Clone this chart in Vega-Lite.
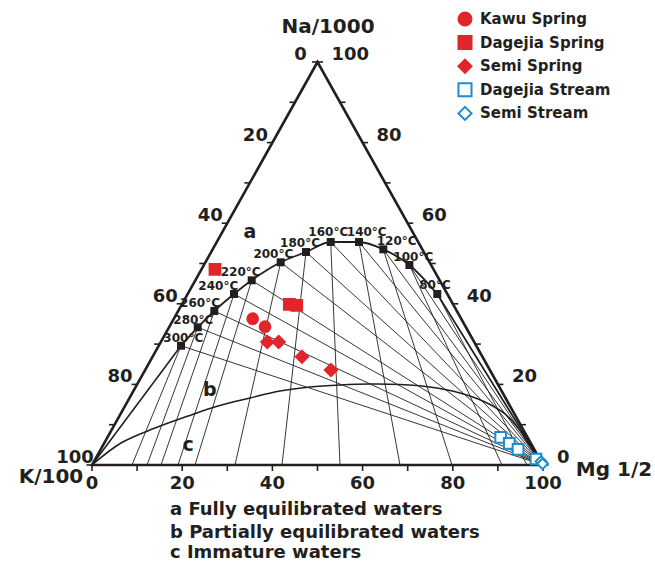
{
"$schema":"https://vega.github.io/schema/vega-lite/v6.json",
"width":655,"height":564,
"autosize":{"type":"fit","contains":"padding"},
"padding":0,
"background":"white",
"config":{"view":{"stroke":null},
 "text":{"font":"DejaVu Sans","fontWeight":"bold","color":"#231f20"},
 "legend":{"labelFont":"DejaVu Sans","labelFontWeight":"bold","labelFontSize":15,"labelColor":"#231f20","symbolStrokeWidth":2,"symbolSize":170,"rowPadding":1.6,"labelOffset":7,"padding":0}},
"datasets":{
 "tri":[{"i":0,"x":0,"y":0},{"i":1,"x":100,"y":0},{"i":2,"x":50,"y":100},{"i":3,"x":0,"y":0}],
 "temps":[
  {"T":"300°C","x":19.73,"y":29.60,"bx":8.87},
  {"T":"280°C","x":23.44,"y":34.17,"bx":12.20},
  {"T":"260°C","x":27.12,"y":38.21,"bx":15.30},
  {"T":"240°C","x":31.49,"y":42.43,"bx":19.07},
  {"T":"220°C","x":35.41,"y":45.83,"bx":22.84},
  {"T":"200°C","x":41.84,"y":50.30,"bx":31.71},
  {"T":"180°C","x":47.45,"y":52.85,"bx":42.13},
  {"T":"160°C","x":52.93,"y":55.33,"bx":54.99},
  {"T":"140°C","x":59.20,"y":55.33,"bx":68.29},
  {"T":"120°C","x":64.59,"y":53.52,"bx":79.82},
  {"T":"100°C","x":70.38,"y":49.63,"bx":90.91},
  {"T":"80°C","x":76.56,"y":42.43,"bx":96.45}],
 "tlabels":[
  {"T":"300°C","x":20.24,"y":31.44},
  {"T":"280°C","x":22.46,"y":35.98},
  {"T":"260°C","x":23.95,"y":40.27},
  {"T":"240°C","x":28.00,"y":44.49},
  {"T":"220°C","x":32.97,"y":47.97},
  {"T":"200°C","x":40.20,"y":52.28},
  {"T":"180°C","x":46.12,"y":55.01},
  {"T":"160°C","x":52.39,"y":57.74},
  {"T":"140°C","x":60.91,"y":57.74},
  {"T":"120°C","x":67.56,"y":55.58},
  {"T":"100°C","x":71.24,"y":51.69},
  {"T":"80°C","x":76.05,"y":44.67}],
 "curveB":[
  {"x":0,"y":0},{"x":6.43,"y":5.46},{"x":13.97,"y":9.18},{"x":21.29,"y":12.16},{"x":27.94,"y":14.64},
  {"x":35.03,"y":16.63},{"x":41.69,"y":18.36},{"x":48.34,"y":19.35},{"x":54.99,"y":19.85},{"x":61.64,"y":20.10},
  {"x":68.29,"y":19.98},{"x":74.94,"y":19.35},{"x":81.60,"y":17.87},{"x":87.14,"y":15.63},{"x":91.57,"y":12.66},
  {"x":94.46,"y":9.18},{"x":96.67,"y":5.46},{"x":100,"y":0}],
 "segs":[{"x":0,"y":0,"x2":19.73,"y2":29.60},{"x":76.56,"y":42.43,"x2":100,"y2":0}],
 "ticks":[
  {"side":"bottom","x":0,"y":0},{"side":"bottom","x":10,"y":0},{"side":"bottom","x":20,"y":0},{"side":"bottom","x":30,"y":0},{"side":"bottom","x":40,"y":0},{"side":"bottom","x":50,"y":0},{"side":"bottom","x":60,"y":0},{"side":"bottom","x":70,"y":0},{"side":"bottom","x":80,"y":0},{"side":"bottom","x":90,"y":0},{"side":"bottom","x":100,"y":0},
  {"side":"left","x":50,"y":100},{"side":"left","x":45,"y":90},{"side":"left","x":40,"y":80},{"side":"left","x":35,"y":70},{"side":"left","x":30,"y":60},{"side":"left","x":25,"y":50},{"side":"left","x":20,"y":40},{"side":"left","x":15,"y":30},{"side":"left","x":10,"y":20},{"side":"left","x":5,"y":10},{"side":"left","x":0,"y":0},
  {"side":"right","x":100,"y":0},{"side":"right","x":95,"y":10},{"side":"right","x":90,"y":20},{"side":"right","x":85,"y":30},{"side":"right","x":80,"y":40},{"side":"right","x":75,"y":50},{"side":"right","x":70,"y":60},{"side":"right","x":65,"y":70},{"side":"right","x":60,"y":80},{"side":"right","x":55,"y":90},{"side":"right","x":50,"y":100}],
 "axlabels":[
  {"side":"bottom","v":"0","x":0,"y":0},{"side":"bottom","v":"20","x":20,"y":0},{"side":"bottom","v":"40","x":40,"y":0},{"side":"bottom","v":"60","x":60,"y":0},{"side":"bottom","v":"80","x":80,"y":0},{"side":"bottom","v":"100","x":100,"y":0},
  {"side":"left","v":"0","x":50,"y":100},{"side":"left","v":"20","x":40,"y":80},{"side":"left","v":"40","x":30,"y":60},{"side":"left","v":"60","x":20,"y":40},{"side":"left","v":"80","x":10,"y":20},{"side":"left","v":"100","x":0,"y":0},
  {"side":"right","v":"100","x":50,"y":100},{"side":"right","v":"80","x":60,"y":80},{"side":"right","v":"60","x":70,"y":60},{"side":"right","v":"40","x":80,"y":40},{"side":"right","v":"20","x":90,"y":20},{"side":"right","v":"0","x":100,"y":0}],
 "titles":[
  {"text":"Na/1000","x":52.33,"y":108.68,"kind":"axis"},
  {"text":"K/100","x":-9.09,"y":-3.0,"kind":"axis"},
  {"text":"Mg 1/2","x":115.74,"y":-1.24,"kind":"axis"},
  {"text":"a","x":35.03,"y":57.90,"kind":"region"},
  {"text":"b","x":26.10,"y":18.61,"kind":"region"},
  {"text":"c","x":21.29,"y":4.96,"kind":"region"}],
 "notes":[
  {"text":"a Fully equilibrated  waters","x":17.29,"y":-11.17},
  {"text":"b Partially equilibrated waters","x":17.29,"y":-16.87},
  {"text":"c Immature waters","x":17.29,"y":-21.84}],
 "samples":[
  {"series":"Kawu Spring","x":35.63,"y":36.30},{"series":"Kawu Spring","x":38.36,"y":34.32},
  {"series":"Dagejia Spring","x":27.27,"y":48.56},{"series":"Dagejia Spring","x":43.75,"y":39.88},{"series":"Dagejia Spring","x":45.39,"y":39.63},
  {"series":"Semi Spring","x":38.87,"y":30.52},{"series":"Semi Spring","x":41.40,"y":30.52},{"series":"Semi Spring","x":46.56,"y":26.87},{"series":"Semi Spring","x":52.99,"y":23.57},
  {"series":"Dagejia Stream","x":90.62,"y":6.87},{"series":"Dagejia Stream","x":92.53,"y":5.38},{"series":"Dagejia Stream","x":94.46,"y":3.90},{"series":"Dagejia Stream","x":98.45,"y":1.49},
  {"series":"Semi Stream","x":99.56,"y":0.87},{"series":"Semi Stream","x":99.9,"y":0.3}]
},
"encoding":{
 "x":{"field":"x","type":"quantitative","scale":{"domain":[-20.399,124.834],"nice":false,"zero":false},"axis":null},
 "y":{"field":"y","type":"quantitative","scale":{"domain":[-24.566,115.385],"nice":false,"zero":false},"axis":null}
},
"layer":[
 {"data":{"name":"temps"},"mark":{"type":"rule","color":"#231f20","strokeWidth":0.9},"encoding":{"x2":{"datum":100},"y2":{"datum":0}}},
 {"data":{"name":"temps"},"mark":{"type":"rule","color":"#231f20","strokeWidth":0.9},"encoding":{"x2":{"field":"bx"},"y2":{"datum":0}}},
 {"data":{"name":"segs"},"mark":{"type":"rule","color":"#231f20","strokeWidth":1.6},"encoding":{"x2":{"field":"x2"},"y2":{"field":"y2"}}},
 {"data":{"name":"temps"},"mark":{"type":"line","color":"#231f20","strokeWidth":1.8,"interpolate":"monotone"},"encoding":{}},
 {"data":{"name":"curveB"},"mark":{"type":"line","color":"#231f20","strokeWidth":1.6,"interpolate":"catmull-rom"},"encoding":{}},
 {"data":{"name":"tri"},"mark":{"type":"line","color":"#231f20","strokeWidth":2.6,"strokeJoin":"miter","strokeCap":"square"},"encoding":{"order":{"field":"i"}}},
 {"data":{"name":"ticks"},"transform":[{"filter":"datum.side==='bottom'"}],"mark":{"type":"point","shape":"M0,0L0,1","size":144,"filled":false,"color":"#231f20","strokeWidth":1.6,"opacity":1}},
 {"data":{"name":"ticks"},"transform":[{"filter":"datum.side==='left'"}],"mark":{"type":"point","shape":"M0,0L-1,0","size":121,"filled":false,"color":"#231f20","strokeWidth":1.6,"opacity":1}},
 {"data":{"name":"ticks"},"transform":[{"filter":"datum.side==='right'"}],"mark":{"type":"point","shape":"M0,0L1,0","size":121,"filled":false,"color":"#231f20","strokeWidth":1.6,"opacity":1}},
 {"data":{"name":"temps"},"mark":{"type":"point","shape":"square","size":64,"filled":true,"color":"#231f20","opacity":1}},
 {"data":{"name":"axlabels"},"transform":[{"filter":"datum.side==='bottom'"}],"mark":{"type":"text","fontSize":18,"dy":19,"align":"center","baseline":"middle"},"encoding":{"text":{"field":"v"}}},
 {"data":{"name":"axlabels"},"transform":[{"filter":"datum.side==='left'"}],"mark":{"type":"text","fontSize":18,"dx":-17,"dy":-7,"align":"center","baseline":"middle"},"encoding":{"text":{"field":"v"}}},
 {"data":{"name":"axlabels"},"transform":[{"filter":"datum.side==='right'"}],"mark":{"type":"text","fontSize":18,"dx":14,"dy":-7,"align":"left","baseline":"middle"},"encoding":{"text":{"field":"v"}}},
 {"data":{"name":"tlabels"},"mark":{"type":"text","fontSize":12,"align":"center","baseline":"middle"},"encoding":{"text":{"field":"T"}}},
 {"data":{"name":"titles"},"transform":[{"filter":"datum.kind==='axis'"}],"mark":{"type":"text","fontSize":20,"align":"center","baseline":"middle"},"encoding":{"text":{"field":"text"}}},
 {"data":{"name":"titles"},"transform":[{"filter":"datum.kind==='region'"}],"mark":{"type":"text","fontSize":19,"align":"center","baseline":"middle"},"encoding":{"text":{"field":"text"}}},
 {"data":{"name":"notes"},"mark":{"type":"text","fontSize":18,"align":"left","baseline":"middle"},"encoding":{"text":{"field":"text"}}},
 {"data":{"name":"samples"},"transform":[{"filter":"datum.series!=='Semi Spring'"}],"mark":{"type":"point","filled":true,"strokeWidth":2,"opacity":1,"size":115},
  "encoding":{
   "shape":{"field":"series","type":"nominal","scale":{"domain":["Kawu Spring","Dagejia Spring","Semi Spring","Dagejia Stream","Semi Stream"],"range":["circle","square","diamond","square","diamond"]},"legend":{"orient":"none","legendX":457,"legendY":11,"title":null}},
   "fill":{"field":"series","type":"nominal","scale":{"domain":["Kawu Spring","Dagejia Spring","Semi Spring","Dagejia Stream","Semi Stream"],"range":["#e0262b","#e0262b","#e0262b","#ffffff","#ffffff"]},"legend":{"orient":"none","legendX":457,"legendY":11,"title":null}},
   "stroke":{"field":"series","type":"nominal","scale":{"domain":["Kawu Spring","Dagejia Spring","Semi Spring","Dagejia Stream","Semi Stream"],"range":["#e0262b","#e0262b","#e0262b","#1a8ccf","#1a8ccf"]},"legend":{"orient":"none","legendX":457,"legendY":11,"title":null}}
  }},
 {"data":{"name":"samples"},"transform":[{"filter":"datum.series==='Semi Spring'"}],"mark":{"type":"point","filled":true,"strokeWidth":2,"opacity":1,"size":150},
  "encoding":{
   "shape":{"field":"series","type":"nominal"},
   "fill":{"field":"series","type":"nominal"},
   "stroke":{"field":"series","type":"nominal"}
  }}
]
}
